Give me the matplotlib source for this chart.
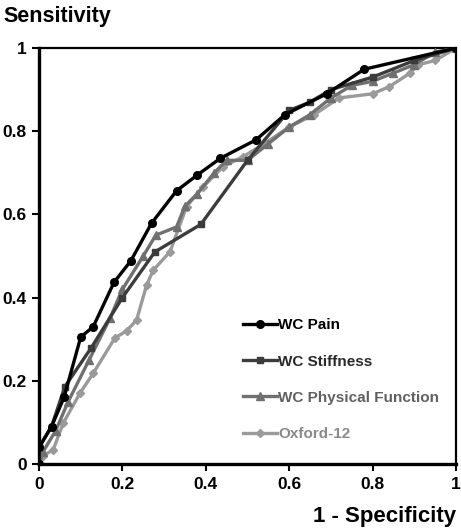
import matplotlib
matplotlib.use("Agg")
import matplotlib.pyplot as plt

# ROC curves (1 - specificity, sensitivity)
pain_x = [0.0, 0.0, 0.03, 0.06, 0.10, 0.13, 0.18, 0.22, 0.27, 0.33, 0.38, 0.435,
          0.52, 0.59, 0.69, 0.78, 1.0]
pain_y = [0.0, 0.04, 0.09, 0.16, 0.305, 0.33, 0.437, 0.488, 0.579, 0.657, 0.695,
          0.735, 0.779, 0.84, 0.89, 0.949, 1.0]

stiff_x = [0.0, 0.0, 0.03, 0.062, 0.125, 0.20, 0.278, 0.388, 0.50, 0.60, 0.65,
           0.70, 0.80, 0.90, 1.0]
stiff_y = [0.0, 0.04, 0.09, 0.186, 0.279, 0.40, 0.51, 0.576, 0.73, 0.85, 0.87,
           0.90, 0.93, 0.97, 1.0]

phys_x = [0.0, 0.01, 0.04, 0.07, 0.12, 0.17, 0.20, 0.25, 0.28, 0.33, 0.35, 0.38,
          0.42, 0.45, 0.50, 0.55, 0.60, 0.65, 0.70, 0.75, 0.80, 0.85, 0.90,
          0.95, 1.0]
phys_y = [0.0, 0.03, 0.08, 0.15, 0.25, 0.35, 0.42, 0.50, 0.55, 0.57, 0.62, 0.65,
          0.70, 0.73, 0.73, 0.77, 0.81, 0.84, 0.88, 0.91, 0.92, 0.94, 0.96,
          0.99, 1.0]

oxf_x = [0.0, 0.01, 0.034, 0.058, 0.098, 0.13, 0.182, 0.21, 0.234, 0.258, 0.274,
         0.314, 0.354, 0.394, 0.442, 0.49, 0.54, 0.60, 0.66, 0.72, 0.80, 0.84,
         0.89, 0.91, 0.95, 1.0]
oxf_y = [0.0, 0.02, 0.034, 0.098, 0.17, 0.218, 0.303, 0.32, 0.346, 0.43, 0.466,
         0.51, 0.619, 0.667, 0.715, 0.739, 0.77, 0.81, 0.84, 0.88, 0.89, 0.907,
         0.94, 0.96, 0.97, 1.0]

plt.rcParams["font.family"] = ["Liberation Sans", "DejaVu Sans"]

fig = plt.figure(figsize=(4.61, 5.30), dpi=100)
ax = fig.add_axes([0.0846, 0.1245, 0.9046, 0.7849])

ax.plot(pain_x, pain_y, color="#000000", lw=2.4, marker="o", ms=5.5,
        label="WC Pain", zorder=5)
ax.plot(stiff_x, stiff_y, color="#3c3c3c", lw=2.4, marker="s", ms=5,
        label="WC Stiffness", zorder=4)
ax.plot(phys_x, phys_y, color="#707070", lw=2.4, marker="^", ms=5.5,
        label="WC Physical Function", zorder=3)
ax.plot(oxf_x, oxf_y, color="#9a9a9a", lw=2.4, marker="D", ms=4.5,
        label="Oxford-12", zorder=2)

ax.set_xlim(0, 1)
ax.set_ylim(0, 1)
ax.set_xticks([0, 0.2, 0.4, 0.6, 0.8, 1])
ax.set_xticklabels(["0", "0.2", "0.4", "0.6", "0.8", "1"])
ax.set_yticks([0, 0.2, 0.4, 0.6, 0.8, 1])
ax.set_yticklabels(["0", "0.2", "0.4", "0.6", "0.8", "1"])
ax.tick_params(direction="out", length=5, width=1.5, labelsize=12.5, pad=4)
for lab in ax.get_xticklabels() + ax.get_yticklabels():
    lab.set_fontweight("bold")
ax.spines["left"].set_linewidth(2.4)
ax.spines["bottom"].set_linewidth(2.4)
ax.spines["top"].set_linewidth(1.6)
ax.spines["right"].set_linewidth(1.6)

leg = ax.legend(loc="upper left", bbox_to_anchor=(0.489, 0.35), frameon=False,
                borderpad=0, borderaxespad=0,
                handlelength=2.2, handletextpad=0.1, labelspacing=1.45,
                fontsize=11)
text_colors = ["#000000", "#2a2a2a", "#606060", "#8a8a8a"]
for txt, c in zip(leg.get_texts(), text_colors):
    txt.set_color(c)
    txt.set_fontweight("bold")

fig.text(0.008, 0.969, "Sensitivity", fontsize=15.5, fontweight="bold",
         ha="left", va="center")
fig.text(0.99, 0.026, "1 - Specificity", fontsize=16, fontweight="bold",
         ha="right", va="center")

fig.savefig("out.png", dpi=100)
